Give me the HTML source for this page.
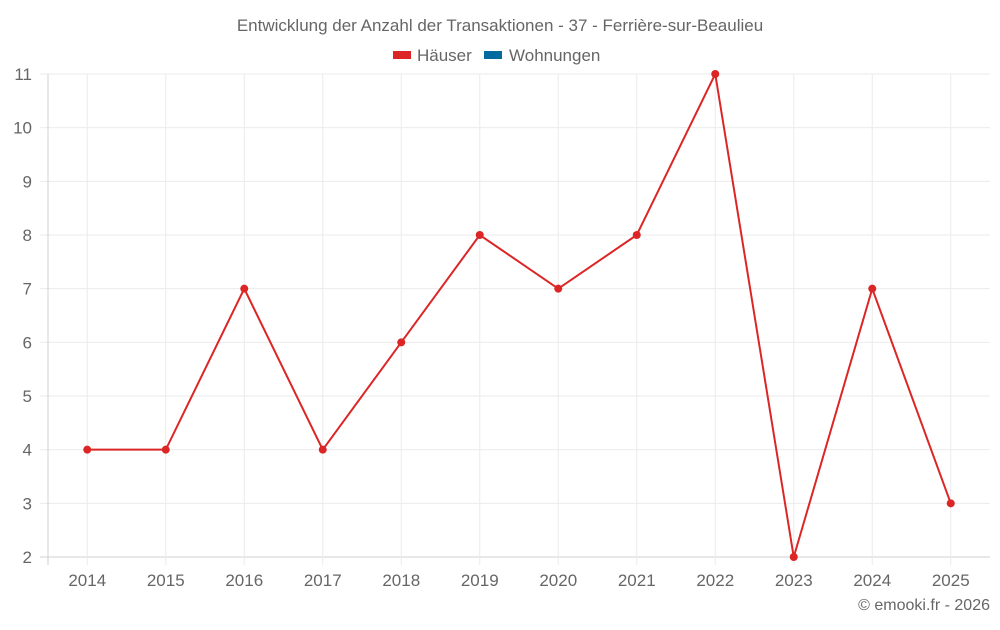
<!DOCTYPE html>
<html><head><meta charset="utf-8"><style>
body{margin:0;background:#fff;font-family:"Liberation Sans",sans-serif;}
svg text{font-family:"Liberation Sans",sans-serif;fill:#666;}
</style></head><body>
<svg id="c" width="1000" height="625">
<text x="500" y="31" text-anchor="middle" font-size="17">Entwicklung der Anzahl der Transaktionen - 37 - Ferrière-sur-Beaulieu</text>
<g>
<g><rect x="393" y="51" width="18" height="8" fill="#dc2626"/><text x="417" y="61" font-size="17">Häuser</text></g>
<g><rect x="484" y="51" width="18" height="8" fill="#0369a1"/><text x="509" y="61" font-size="17">Wohnungen</text></g>
</g>
<g id="grid"></g><g id="marks"></g>
<text x="990" y="610" text-anchor="end" font-size="16">© emooki.fr - 2026</text>
</svg>
<script>
const categories=["2014","2015","2016","2017","2018","2019","2020","2021","2022","2023","2024","2025"];
const houses=[4,4,7,4,6,8,7,8,11,2,7,3];
const yTicks=[2,3,4,5,6,7,8,9,10,11];
const L=48,R=990,T=74,B=557,yMin=2,yMax=11;
const bw=(R-L)/categories.length;
const xs=i=>L+bw*(i+0.5);
const ys=v=>B-(v-yMin)/(yMax-yMin)*(B-T);
const ns="http://www.w3.org/2000/svg";
const g=document.getElementById('grid'),m=document.getElementById('marks');
function el(t,a,p){const e=document.createElementNS(ns,t);for(const k in a)e.setAttribute(k,a[k]);p.appendChild(e);return e;}
yTicks.forEach(v=>{const y=ys(v);
const l=el('line',{x1:40,x2:R,y1:y,y2:y,stroke:v===yMin?'#d0d0d0':'#ebebeb'},g);


const t=el('text',{x:32,y:y+6,'text-anchor':'end','font-size':17},g);t.textContent=v;

});
el('line',{x1:L,x2:L,y1:T,y2:B+8,stroke:'#d0d0d0'},g);
categories.forEach((c,i)=>{const x=xs(i);
const l=el('line',{x1:x,x2:x,y1:T,y2:B+8,stroke:'#ebebeb'},g);


const t=el('text',{x:x,y:586,'text-anchor':'middle','font-size':17},g);t.textContent=c;

});
const p=el('polyline',{points:houses.map((v,i)=>xs(i)+','+ys(v)).join(' '),fill:'none',stroke:'#dc2626','stroke-width':2},m);


houses.forEach((v,i)=>{const c=el('circle',{cx:xs(i),cy:ys(v),r:4,fill:'#dc2626'},m);

});
</script>
</body></html>
